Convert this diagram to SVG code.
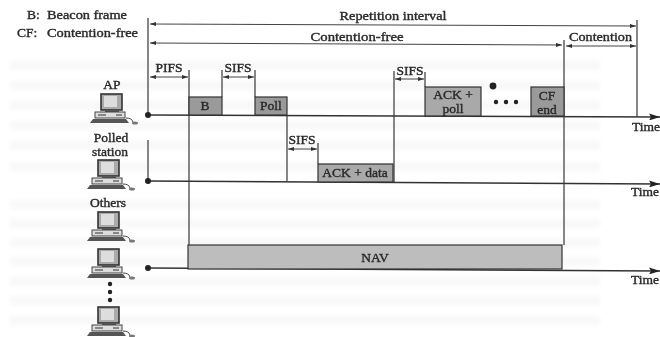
<svg xmlns="http://www.w3.org/2000/svg" width="660" height="337" viewBox="0 0 660 337">
<style>
text{font-family:"Liberation Serif","Times New Roman",serif;font-size:13.5px;fill:#2a2a2a;stroke:#2a2a2a;stroke-width:0.4}
.m{text-anchor:middle}
.ax{stroke:#333;stroke-width:1.6;fill:none}
.v{stroke:#555;stroke-width:1.4;fill:none}
.d{stroke:#444;stroke-width:1;fill:none;marker-start:url(#a);marker-end:url(#b)}
.box{fill:#9a9a9a;stroke:#333;stroke-width:1.2}
.lt{fill:#a9a9a9}
.nav{fill:#bdbdbd}
.dot{fill:#222}
.g{fill:#f8f8f8}
</style>
<defs>
<filter id="s" x="-2%" y="-2%" width="104%" height="104%"><feGaussianBlur stdDeviation="0.45"/></filter>
<filter id="gb" x="-2%" y="-2%" width="104%" height="104%"><feGaussianBlur stdDeviation="2"/></filter>
<marker id="a" markerWidth="6" markerHeight="6" refX="0" refY="2" orient="auto" markerUnits="userSpaceOnUse"><path d="M0 2L6 0V4Z" fill="#333"/></marker>
<marker id="b" markerWidth="6" markerHeight="6" refX="6" refY="2" orient="auto" markerUnits="userSpaceOnUse"><path d="M6 2L0 0V4Z" fill="#333"/></marker>
<marker id="t" markerWidth="11" markerHeight="7" refX="11" refY="3.5" orient="auto" markerUnits="userSpaceOnUse"><path d="M11 3.5L0 0L2 3.5L0 7Z" fill="#222"/></marker>
<g id="pc">
<rect x="3" y="0" width="21" height="16" fill="#aaa" stroke="#333" stroke-width="1.6"/>
<rect x="6" y="2" width="13" height="11" fill="#ddd"/>
<rect x="7" y="16" width="14" height="2" fill="#555"/>
<rect x="-3" y="18" width="30" height="6" fill="#ddd" stroke="#444"/>
<path d="M0 21h8M18 21h6" stroke="#333" stroke-width="1.2"/>
<path d="M-8 29L-5 25H28L31 29Z" fill="#555"/>
<path d="M28 24Q34 24 35 28" stroke="#444" fill="none"/>
<ellipse cx="37" cy="29" rx="3" ry="1.5" fill="#777"/>
</g>
</defs>
<rect width="660" height="337" fill="#fff"/>
<g id="bleed-through" filter="url(#gb)">
<rect class="g" x="10" y="61" width="590" height="9"/><rect class="g" x="10" y="81" width="590" height="9"/><rect class="g" x="10" y="101" width="590" height="9"/><rect class="g" x="10" y="121" width="590" height="9"/><rect class="g" x="10" y="141" width="590" height="9"/><rect class="g" x="10" y="162" width="590" height="9"/><rect class="g" x="10" y="200" width="590" height="9"/><rect class="g" x="10" y="219" width="590" height="9"/><rect class="g" x="10" y="238" width="590" height="9"/><rect class="g" x="10" y="257" width="590" height="9"/><rect class="g" x="10" y="277" width="590" height="9"/><rect class="g" x="10" y="296" width="590" height="9"/><rect class="g" x="10" y="316" width="590" height="9"/>
</g>
<g filter="url(#s)">
<g id="connectors">
<path class="v" d="M148 18V115M148 140V181M189 70V245M222 70V97M255 70V97M287 115V181M318 143V164M394 71V182M425 72V87M564 40V245M637 20V117"/>
<path class="ax" marker-end="url(#t)" d="M148 115L660 117"/>
<path class="ax" marker-end="url(#t)" d="M148 181L660 184"/>
<path class="ax" marker-end="url(#t)" d="M148 268L660 271"/>
<path class="d" d="M150 24L636 26"/>
<path class="d" d="M150 43L562 45"/>
<path class="d" d="M566 46L636 46"/>
<path class="d" d="M150 77L188 77"/>
<path class="d" d="M223 77L254 77"/>
<path class="d" d="M288 149L317 149"/>
<path class="d" d="M395 79L424 79"/>
<circle class="dot" cx="148" cy="115" r="3"/>
<circle class="dot" cx="148" cy="181" r="3"/>
<circle class="dot" cx="148" cy="268" r="3"/>
</g>
<g id="legend">
<text x="27" y="19">B:</text><text x="47" y="19" textLength="80" lengthAdjust="spacingAndGlyphs">Beacon frame</text>
<text x="17" y="37">CF:</text><text x="47" y="37" textLength="91" lengthAdjust="spacingAndGlyphs">Contention-free</text>
</g>
<g id="intervals">
<text class="m" x="393" y="20" textLength="107" lengthAdjust="spacingAndGlyphs">Repetition interval</text>
<text class="m" x="357" y="41" textLength="93" lengthAdjust="spacingAndGlyphs">Contention-free</text>
<text x="569" y="41" textLength="63" lengthAdjust="spacingAndGlyphs">Contention</text>
<text class="m" x="169" y="72">PIFS</text>
<text class="m" x="238" y="72">SIFS</text>
<text class="m" x="302" y="144">SIFS</text>
<text class="m" x="410" y="75">SIFS</text>
</g>
<g id="ap"><text class="m" x="112" y="89">AP</text><use href="#pc" x="98" y="94"/></g>
<g id="polled-station"><text class="m" x="111" y="142">Polled</text><text class="m" x="110" y="156">station</text><use href="#pc" x="95" y="160"/></g>
<g id="others"><text class="m" x="108" y="207">Others</text><use href="#pc" x="95" y="212"/></g>
<g id="station-a"><use href="#pc" x="95" y="249"/></g>
<g id="station-dots"><circle class="dot" cx="110" cy="284" r="2.2"/><circle class="dot" cx="110" cy="292" r="2.2"/><circle class="dot" cx="110" cy="300" r="2.2"/></g>
<g id="station-b"><use href="#pc" x="95" y="307"/></g>
<g id="frame-b"><rect class="box" x="189" y="97" width="33" height="18"/><text class="m" x="205" y="110">B</text></g>
<g id="frame-poll"><rect class="box" x="255" y="97" width="32" height="18"/><text class="m" x="271" y="110">Poll</text></g>
<g id="frame-ack-data"><rect class="box lt" x="318" y="164" width="75" height="18"/><text class="m" x="355" y="177">ACK + data</text></g>
<g id="frame-ack-poll"><rect class="box lt" x="425" y="87" width="56" height="29"/><text class="m" x="453" y="99">ACK +</text><text class="m" x="453" y="113">poll</text></g>
<g id="frame-cf-end"><rect class="box" x="531" y="87" width="33" height="29"/><text class="m" x="547" y="100">CF</text><text class="m" x="547" y="114">end</text></g>
<g id="frame-nav"><rect class="box nav" x="188" y="245" width="374" height="24"/><text class="m" x="375" y="262">NAV</text></g>
<g id="ellipsis"><circle class="dot" cx="493" cy="86" r="3.4"/><circle class="dot" cx="496" cy="102" r="2.2"/><circle class="dot" cx="506" cy="102" r="2.2"/><circle class="dot" cx="516" cy="102" r="2.2"/></g>
<g id="time-labels"><text x="632" y="131">Time</text><text x="631" y="196">Time</text><text x="631" y="284">Time</text></g>
</g>
</svg>
